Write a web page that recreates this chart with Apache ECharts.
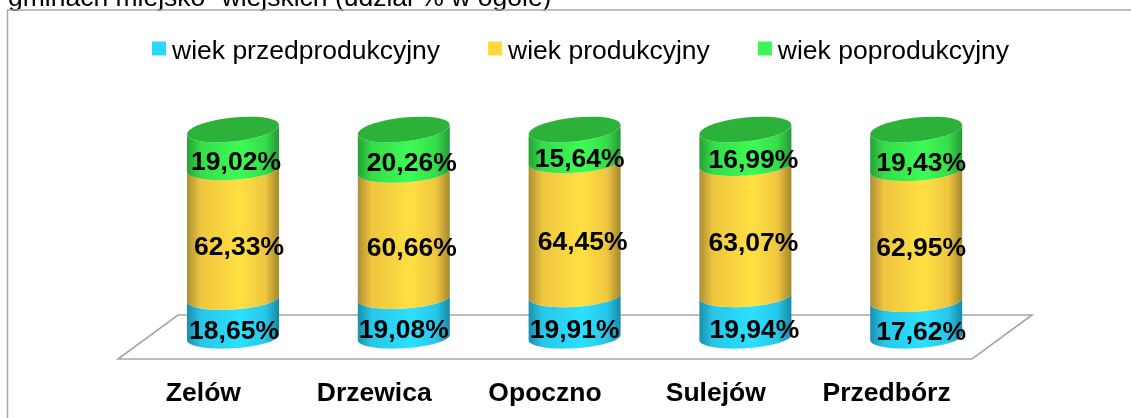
<!DOCTYPE html>
<html><head><meta charset="utf-8">
<style>html,body{margin:0;padding:0;background:#fff}#c{width:1131px;height:418px}</style>
<script src="https://cdn.jsdelivr.net/npm/echarts@6/dist/echarts.min.js"></script>
</head><body><div id="c"></div>
<script>
const categories = ['Zelów','Drzewica','Opoczno','Sulejów','Przedbórz'];
const przedprodukcyjny = [18.65,19.08,19.91,19.94,17.62];
const produkcyjny = [62.33,60.66,64.45,63.07,62.95];
const poprodukcyjny = [19.02,20.26,15.64,16.99,19.43];
const seriesNames = ['wiek przedprodukcyjny','wiek produkcyjny','wiek poprodukcyjny'];
const titleText = 'gminach miejsko- wiejskich (udział % w ogółe)';

const fmt = v => v.toFixed(2).replace('.', ',') + '%';
function shade(edgeL, lit, edgeR){
  return {type:'linear',x:0,y:0,x2:1,y2:0,colorStops:[
    {offset:0,color:edgeL},{offset:.15,color:lit[0]},{offset:.58,color:lit[1]},{offset:.85,color:lit[0]},{offset:1,color:edgeR}]};
}
const A = 46;
const lidShape = {b:12,k:0.1}, ringShape = {b:10.8,k:0.06};
function arc(cx, cy, from, to, s){
  const pts=[], n=36;
  for(let i=0;i<=n;i++){const t=from+(to-from)*i/n;
    pts.push([cx+A*Math.cos(t), cy-s.b*Math.sin(t)-s.k*A*Math.cos(t)]);}
  return pts;
}
function segment(stackBelow, fill, lidColor, nudge){
  return function(params, api){
    const i = api.value(0), v = api.value(1), base = stackBelow[i];
    const low = api.coord([i, base]), high = api.coord([i, base+v]);
    const cx = low[0];
    const lower = arc(cx, low[1], Math.PI, 2*Math.PI, ringShape);
    const upper = arc(cx, high[1], 2*Math.PI, Math.PI, lidColor ? lidShape : ringShape);
    const children = [{type:'polygon',shape:{points:lower.concat(upper)},style:{fill}}];
    if(lidColor){
      children.push({type:'polygon',shape:{points:arc(cx,high[1],0,2*Math.PI,lidShape)},style:{fill:lidColor}});
    }
    children.push({type:'text',z2:50,style:{text:fmt(v),x:cx+nudge[i],y:(low[1]+high[1])/2+13.5,align:'center',verticalAlign:'middle',
      font:'bold 26.5px "Liberation Sans", Arial, sans-serif',fill:'#000'}});
    return {type:'group',children};
  };
}
const base0 = categories.map(()=>0);
const base1 = przedprodukcyjny.slice();
const base2 = przedprodukcyjny.map((v,i)=>v+produkcyjny[i]);
const rows = arr => arr.map((v,i)=>[i,v]);

function floor(params, api){
  const c = params.coordSys, depthX = 60, depthY = 44;
  const l=c.x, r=c.x+c.width, y=c.y+c.height;
  return {type:'polygon',silent:true,shape:{points:[[l,y],[r,y],[r+depthX,y-depthY],[l+depthX,y-depthY]]},
    style:{fill:'#fff',stroke:'#A6A6A6',lineWidth:1.6}};
}
const mk = (name,arr,base,fill,legendColor,lid,z,nudge) => ({
  name,type:'custom',xAxisIndex:1,yAxisIndex:1,z,
  itemStyle:{color:legendColor},
  encode:{x:0,y:1},
  renderItem:segment(base,fill,lid,nudge),data:rows(arr),clip:false
});
const chart = echarts.init(document.getElementById('c'),null,{renderer:'canvas'});
const legendFont = '"Liberation Sans", Arial, sans-serif';
chart.setOption({
  animation:false,backgroundColor:'#fff',
  title:{text:titleText,left:3,top:-20,textStyle:{fontFamily:legendFont,fontWeight:'normal',fontSize:26.5,color:'#000'}},
  legend:{left:147,top:33,itemWidth:14,itemHeight:14,itemGap:48,icon:'rect',data:seriesNames,
    formatter:'{t|{name}}',
    textStyle:{rich:{t:{fontFamily:legendFont,fontSize:26.5,color:'#000',padding:[6,0,0,1]}}}},
  graphic:[{type:'polyline',silent:true,z:100,shape:{points:[[7.5,418],[7.5,10],[1131,10]]},style:{stroke:'#A9A9A9',lineWidth:1.5,fill:null}}],
  grid:[{left:118,right:159,top:330,height:29},{left:147.6,right:129.4,top:129.5,height:208}],
  xAxis:[
    {type:'category',gridIndex:0,data:categories,axisLine:{show:false},axisTick:{show:false},
     axisLabel:{margin:21,color:'#000',fontWeight:'bold',fontSize:26.5,fontFamily:legendFont}},
    {type:'category',gridIndex:1,data:categories,show:false}
  ],
  yAxis:[
    {type:'value',gridIndex:0,min:0,max:100,show:false},
    {type:'value',gridIndex:1,min:0,max:100,show:false}
  ],
  series:[
    {type:'custom',xAxisIndex:0,yAxisIndex:0,z:1,silent:true,renderItem:floor,data:[[0,0]],clip:false,legendHoverLink:false},
    mk(seriesNames[0],przedprodukcyjny,base0,shade('#1A8FAE',['#27C6E8','#2CE0FF'],'#168AA6'),'#2AD7FF',null,2,[1,0,0,9,5]),
    mk(seriesNames[1],produkcyjny,base1,shade('#AD8F35',['#EFC63F','#FFE042'],'#A3882F'),'#FFD83F',null,3,[6,8,8,8,5]),
    mk(seriesNames[2],poprodukcyjny,base2,shade('#27A035',['#35DD49','#3DFB55'],'#25993A'),'#3CF552','#2CB238',4,[3,8,5,8,5])
  ]
});
</script></body></html>
